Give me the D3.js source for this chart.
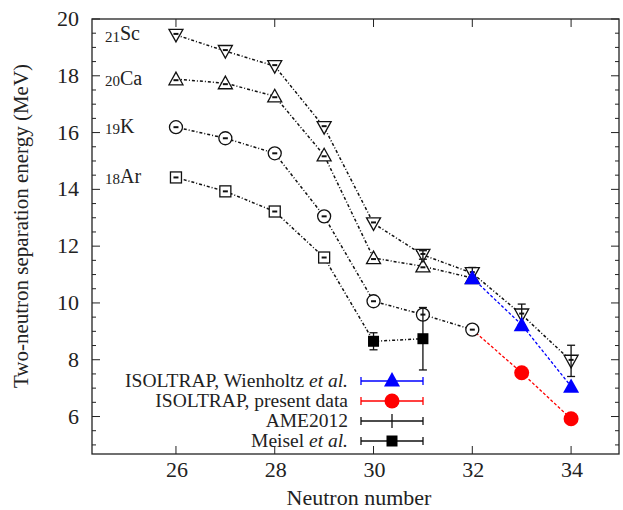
<!DOCTYPE html>
<html>
<head>
<meta charset="utf-8">
<script src="https://cdn.jsdelivr.net/npm/d3@7"></script>
</head>
<body style="margin:0">
<script>
// data
var arN = [26, 27, 28, 29];
var arSn = [14.42, 13.93, 13.22, 11.6];
var kN = [26, 27, 28, 29, 30, 31, 32];
var kSn = [16.19, 15.8, 15.27, 13.05, 10.06, 9.59, 9.06];
var caN = [26, 27, 28, 29, 30, 31, 32];
var caSn = [17.88, 17.74, 17.28, 15.2, 11.58, 11.29, 10.88];
var scN = [26, 27, 28, 29, 30, 31, 32, 33, 34];
var scSn = [19.44, 18.87, 18.34, 16.19, 12.8, 11.69, 11.05, 9.59, 7.96];
var scErr = [0, 0, 0, 0, 0, 0.15, 0.2, 0.37, 0.55];
var meiselN = [30, 31];
var meiselSn = [8.65, 8.74];
var meiselErr = [0.3, 1.1];
var wienN = [32, 33, 34];
var wienSn = [10.88, 9.23, 7.06];
var presentN = [33, 34];
var presentSn = [7.54, 5.92];
var xTicks = [26, 28, 30, 32, 34];
var yTicks = [6, 8, 10, 12, 14, 16, 18, 20];
var isotopes = [
    {z: "21", el: "Sc", v: 19.44},
    {z: "20", el: "Ca", v: 17.88},
    {z: "19", el: "K", v: 16.19},
    {z: "18", el: "Ar", v: 14.42}
];
var legendNames = ["Wienholtz", "present", "AME2012", "Meisel"];

let width = 623;
let height = 510;
let margin = {left: 92, right: 4, top: 19, bottom: 56};

let svg = d3.select("body").append("svg")
    .attr("width", width)
    .attr("height", height);

function txt(xx, yy, size) {
    return svg.append("text").attr("x", xx).attr("y", yy)
        .attr("font-family", "Liberation Serif")
        .style("font-family", "'Liberation Serif'")
        .attr("font-size", size)
        .attr("fill", "#222");
}

let x = d3.scaleLinear().domain([24.3, 34.97]).range([margin.left, width - margin.right]);
let y = d3.scaleLinear().domain([4.68, 20]).range([height - margin.bottom, margin.top]);

let x0 = x.range()[0], x1 = x.range()[1], y0 = y.range()[0], y1 = y.range()[1];

// ticks (inward, all four sides)
let minorY = d3.range(5, 20.01, 0.5);
minorY.forEach(v => {
    let major = v % 2 === 0;
    let len = major ? 8 : 4;
    svg.append("line").attr("x1", x0).attr("x2", x0 + len).attr("y1", y(v)).attr("y2", y(v))
        .attr("stroke", "#222").attr("stroke-width", 1);
    svg.append("line").attr("x1", x1).attr("x2", x1 - len).attr("y1", y(v)).attr("y2", y(v))
        .attr("stroke", "#222").attr("stroke-width", 1);
});
xTicks.forEach(v => {
    svg.append("line").attr("x1", x(v)).attr("x2", x(v)).attr("y1", y0).attr("y2", y0 - 8)
        .attr("stroke", "#222").attr("stroke-width", 1);
    svg.append("line").attr("x1", x(v)).attr("x2", x(v)).attr("y1", y1).attr("y2", y1 + 8)
        .attr("stroke", "#222").attr("stroke-width", 1);
});

svg.append("rect").attr("x", x0).attr("y", y1).attr("width", x1 - x0).attr("height", y0 - y1)
    .attr("fill", "none").attr("stroke", "#222").attr("stroke-width", 1.3);

// tick labels
yTicks.forEach(d => {
    txt(x0 - 13, y(d) + 7, 22).attr("text-anchor", "end").text(d);
});
xTicks.forEach(d => {
    txt(x(d) + 1, y0 + 23, 22).attr("text-anchor", "middle").text(d);
});

txt(359, 505, 22).attr("text-anchor", "middle").text("Neutron number");
txt(0, 0, 21)
    .attr("transform", "translate(28,226) rotate(-90)")
    .attr("text-anchor", "middle")
    .text("Two-neutron separation energy (MeV)");

// connecting lines
let line = d3.line().x(d => x(d[0])).y(d => y(d[1]));
let dashDot = "3,2,1,2";

function pairs(ns, vs) { return ns.map((n, i) => [n, vs[i]]); }

let arLine = pairs(arN, arSn).concat(pairs(meiselN, meiselSn));
[arLine, pairs(kN, kSn), pairs(caN, caSn), pairs(scN, scSn)].forEach(p => {
    svg.append("path").datum(p).attr("d", line)
        .attr("fill", "none").attr("stroke", "#111").attr("stroke-width", 1.5)
        .attr("stroke-dasharray", dashDot);
});
svg.append("path").datum([[32, kSn[6]]].concat(pairs(presentN, presentSn))).attr("d", line)
    .attr("fill", "none").attr("stroke", "#f00").attr("stroke-width", 1.3)
    .attr("stroke-dasharray", "3,2");
svg.append("path").datum(pairs(wienN, wienSn)).attr("d", line)
    .attr("fill", "none").attr("stroke", "#00f").attr("stroke-width", 1.3)
    .attr("stroke-dasharray", "3,2");

// symbols
let s = 6.5;
function triUp(cx, cy, r) {
    return "M" + (cx - r) + "," + (cy + r * 0.8) + "L" + (cx + r) + "," + (cy + r * 0.8) + "L" + cx + "," + (cy - r * 1.0) + "Z";
}
function triDown(cx, cy, r) {
    return "M" + (cx - r) + "," + (cy - r * 0.8) + "L" + (cx + r) + "," + (cy - r * 0.8) + "L" + cx + "," + (cy + r * 1.0) + "Z";
}
function dash(cx, cy) {
    svg.append("line").attr("x1", cx - 2.5).attr("x2", cx + 2.5).attr("y1", cy).attr("y2", cy)
        .attr("stroke", "#111").attr("stroke-width", 2);
}
function errBar(cx, v, e, color) {
    if (!e) return;
    svg.append("line").attr("x1", cx).attr("x2", cx).attr("y1", y(v - e)).attr("y2", y(v + e))
        .attr("stroke", color).attr("stroke-width", 1.3);
    [v - e, v + e].forEach(w => {
        svg.append("line").attr("x1", cx - 4).attr("x2", cx + 4).attr("y1", y(w)).attr("y2", y(w))
            .attr("stroke", color).attr("stroke-width", 1.3);
    });
}

arN.forEach((n, i) => {
    svg.append("rect").attr("x", x(n) - 5.5).attr("y", y(arSn[i]) - 5.5).attr("width", 11).attr("height", 11)
        .attr("fill", "white").attr("stroke", "#111").attr("stroke-width", 1.3);
    dash(x(n), y(arSn[i]));
});
kN.forEach((n, i) => {
    svg.append("circle").attr("cx", x(n)).attr("cy", y(kSn[i])).attr("r", s)
        .attr("fill", "white").attr("stroke", "#111").attr("stroke-width", 1.3);
    dash(x(n), y(kSn[i]));
});
caN.forEach((n, i) => {
    svg.append("path").attr("d", triUp(x(n), y(caSn[i]), s + 0.5))
        .attr("fill", "white").attr("stroke", "#111").attr("stroke-width", 1.3);
    dash(x(n), y(caSn[i]) + 1);
});
scN.forEach((n, i) => {
    svg.append("path").attr("d", triDown(x(n), y(scSn[i]), s + 0.5))
        .attr("fill", "white").attr("stroke", "#111").attr("stroke-width", 1.3);
    dash(x(n), y(scSn[i]) - 1);
    errBar(x(n), scSn[i], scErr[i], "#111");
});
meiselN.forEach((n, i) => {
    errBar(x(n), meiselSn[i], meiselErr[i], "#111");
    svg.append("rect").attr("x", x(n) - 5.5).attr("y", y(meiselSn[i]) - 5.5).attr("width", 11).attr("height", 11)
        .attr("fill", "#000");
});
wienN.forEach((n, i) => {
    svg.append("path").attr("d", triUp(x(n), y(wienSn[i]), 8)).attr("fill", "#00f");
});
presentN.forEach((n, i) => {
    svg.append("circle").attr("cx", x(n)).attr("cy", y(presentSn[i])).attr("r", 7.5).attr("fill", "#f00");
});

// isotope labels
isotopes.forEach(d => {
    let t = txt(105, y(d.v) + 7, 20);
    t.append("tspan").attr("font-size", 15).text(d.z);
    t.append("tspan").attr("dy", -1.5).text(d.el);
});

// legend
let legY = [381, 401, 421, 441];
let legText = [
    ["ISOLTRAP, Wienholtz ", "et al."],
    ["ISOLTRAP, present data", ""],
    ["AME2012", ""],
    ["Meisel ", "et al."]
];
let legColor = ["#00f", "#f00", "#111", "#111"];
legY.forEach((ly, i) => {
    let t = txt(348, ly + 6, 19.5).attr("text-anchor", "end");
    t.append("tspan").text(legText[i][0]);
    if (legText[i][1]) t.append("tspan").attr("font-style", "italic").text(legText[i][1]);
    svg.append("line").attr("x1", 361).attr("x2", 423).attr("y1", ly).attr("y2", ly)
        .attr("stroke", legColor[i]).attr("stroke-width", 1.3);
    [361, 423].forEach(xx => {
        svg.append("line").attr("x1", xx).attr("x2", xx).attr("y1", ly - 4).attr("y2", ly + 4)
            .attr("stroke", legColor[i]).attr("stroke-width", 1.3);
    });
    let mx = 392;
    if (legendNames[i] === "Wienholtz") svg.append("path").attr("d", triUp(mx, ly - 1, 8)).attr("fill", "#00f");
    if (legendNames[i] === "present") svg.append("circle").attr("cx", mx).attr("cy", ly).attr("r", 7.5).attr("fill", "#f00");
    if (legendNames[i] === "AME2012") svg.append("line").attr("x1", mx).attr("x2", mx).attr("y1", ly - 7).attr("y2", ly + 7)
        .attr("stroke", "#111").attr("stroke-width", 1.3);
    if (legendNames[i] === "Meisel") svg.append("rect").attr("x", mx - 5.5).attr("y", ly - 5.5).attr("width", 11).attr("height", 11).attr("fill", "#000");
});
</script>
</body>
</html>
